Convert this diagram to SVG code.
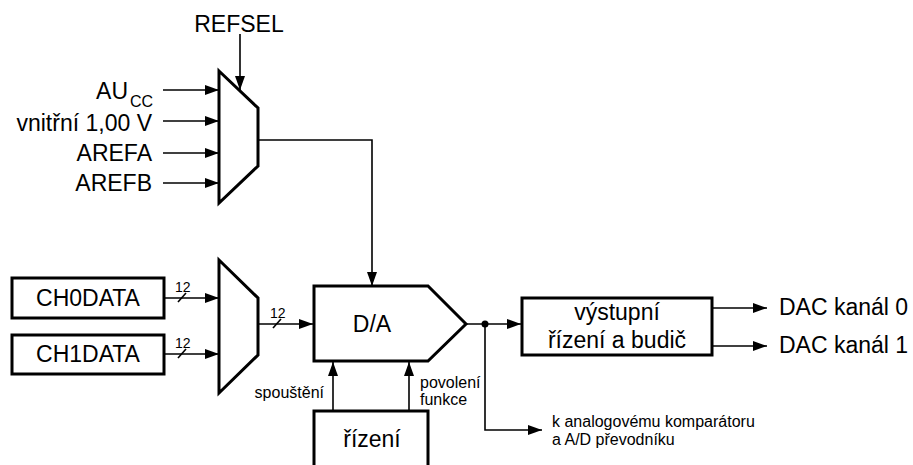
<svg xmlns="http://www.w3.org/2000/svg" width="913" height="465" viewBox="0 0 913 465">
  <defs>
    <marker id="arrow" viewBox="0 0 14 10" refX="14" refY="5" markerWidth="14" markerHeight="10" markerUnits="userSpaceOnUse" orient="auto">
      <path d="M0,0 L14,5 L0,10 z" fill="#000"/>
    </marker>
    <style>
      .blk { fill: #fff; stroke: #000; stroke-width: 3; stroke-linejoin: miter; }
      .wire { fill: none; stroke: #000; stroke-width: 1.6; }
      .arr { marker-end: url(#arrow); }
      .big { font-family: "Liberation Sans", Arial, sans-serif; font-size: 23px; fill: #000; }
      .sub { font-family: "Liberation Sans", Arial, sans-serif; font-size: 16px; fill: #000; }
      .small { font-family: "Liberation Sans", Arial, sans-serif; font-size: 16px; fill: #000; }
      .bus { font-family: "Liberation Sans", Arial, sans-serif; font-size: 14px; fill: #000; }
    </style>
  </defs>

  <rect width="913" height="465" fill="#fff"/>

  <!-- connectors -->
  <g id="connectors">
    <line class="wire arr" x1="240" y1="34" x2="240" y2="90"/>
    <line class="wire arr" x1="163" y1="90" x2="219" y2="90"/>
    <line class="wire arr" x1="163" y1="121" x2="219" y2="121"/>
    <line class="wire arr" x1="163" y1="153" x2="219" y2="153"/>
    <line class="wire arr" x1="163" y1="183" x2="219" y2="183"/>
    <polyline class="wire arr" points="258,140 372,140 372,286"/>

    <line class="wire arr" x1="164" y1="298" x2="219" y2="298"/>
    <line class="wire arr" x1="164" y1="354" x2="219" y2="354"/>
    <line class="wire arr" x1="258" y1="324" x2="313" y2="324"/>
    <!-- bus width ticks -->
    <line class="wire" x1="178" y1="302" x2="186" y2="293"/>
    <line class="wire" x1="178" y1="358" x2="186" y2="349"/>
    <line class="wire" x1="273" y1="328" x2="281" y2="319"/>
    <text class="bus" x="175" y="292">12</text>
    <text class="bus" x="175" y="348">12</text>
    <text class="bus" x="270" y="318">12</text>

    <line class="wire arr" x1="333" y1="411" x2="333" y2="362"/>
    <line class="wire arr" x1="409" y1="411" x2="409" y2="362"/>

    <line class="wire arr" x1="466" y1="324" x2="521" y2="324"/>
    <polyline class="wire arr" points="485,324 485,430 542,430"/>
    <circle cx="485" cy="324" r="3.5" fill="#000"/>

    <line class="wire arr" x1="712" y1="308" x2="767" y2="308"/>
    <line class="wire arr" x1="712" y1="346" x2="767" y2="346"/>
  </g>

  <!-- reference selector -->
  <g id="refsel">
    <text class="big" x="239" y="32" text-anchor="middle">REFSEL</text>
  </g>
  <g id="ref-inputs">
    <text class="big" x="128" y="99" text-anchor="end">AU</text>
    <text class="sub" x="130" y="107">CC</text>
    <text class="big" x="152" y="131" text-anchor="end">vnitřní 1,00 V</text>
    <text class="big" x="152" y="161" text-anchor="end">AREFA</text>
    <text class="big" x="152" y="191" text-anchor="end">AREFB</text>
  </g>
  <g id="ref-mux">
    <polygon class="blk" points="219,71 258,108 258,166 219,203"/>
  </g>

  <!-- data registers -->
  <g id="ch0data">
    <rect class="blk" x="12" y="278" width="152" height="40"/>
    <text class="big" x="88" y="306" text-anchor="middle">CH0DATA</text>
  </g>
  <g id="ch1data">
    <rect class="blk" x="12" y="335" width="152" height="39"/>
    <text class="big" x="88" y="362" text-anchor="middle">CH1DATA</text>
  </g>
  <g id="data-mux">
    <polygon class="blk" points="219,260 258,298 258,355 219,393"/>
  </g>

  <!-- converter -->
  <g id="dac">
    <polygon class="blk" points="314,286 428,286 466,324 428,361 314,361"/>
    <text class="big" x="372" y="332" text-anchor="middle">D/A</text>
  </g>

  <!-- control -->
  <g id="control">
    <path class="blk" d="M314,470 V411 H428 V470"/>
    <text class="big" x="372" y="447" text-anchor="middle">řízení</text>
  </g>
  <g id="control-labels">
    <text class="small" x="324" y="398" text-anchor="end">spouštění</text>
    <text class="small" x="420" y="388">povolení</text>
    <text class="small" x="420" y="405">funkce</text>
  </g>

  <!-- output stage -->
  <g id="output">
    <rect class="blk" x="522" y="298" width="190" height="57"/>
    <text class="big" x="617" y="320" text-anchor="middle">výstupní</text>
    <text class="big" x="617" y="348" text-anchor="middle">řízení a budič</text>
  </g>
  <g id="dac-outputs">
    <text class="big" x="779" y="315">DAC kanál 0</text>
    <text class="big" x="779" y="353">DAC kanál 1</text>
  </g>
  <g id="comparator-note">
    <text class="small" x="552" y="427">k analogovému komparátoru</text>
    <text class="small" x="552" y="445">a A/D převodníku</text>
  </g>
</svg>
